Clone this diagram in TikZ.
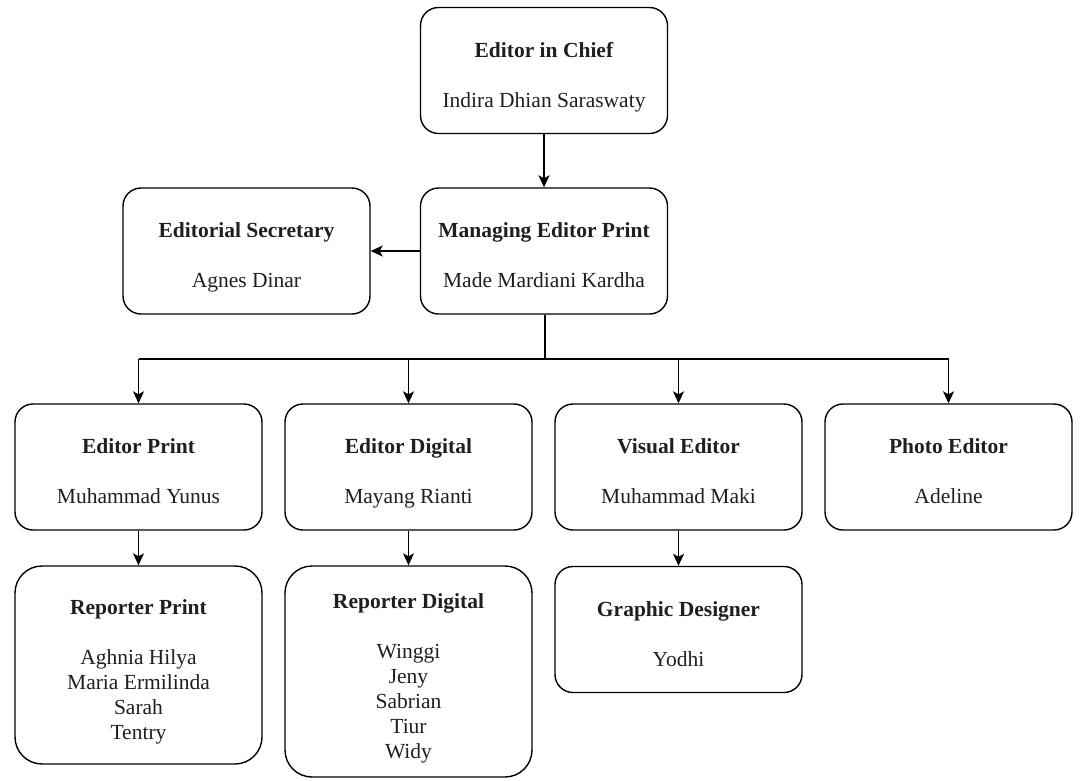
\documentclass[tikz,border=0pt]{standalone}
\usepackage{fontspec}
\setmainfont{Liberation Serif}
\usetikzlibrary{arrows.meta}
\newcommand{\ttl}[1]{\rule{0pt}{29.5pt}\textbf{#1}}
\newcommand{\lst}{\rule[-6pt]{0pt}{6pt}}
\begin{document}
\begin{tikzpicture}[x=1pt,y=-1pt,
  box/.style={draw, line width=1.4pt, rounded corners=18pt, minimum width=247pt,
    minimum height=126pt, inner sep=0pt, align=center,
    font=\fontsize{21.5}{25}\selectfont, text=black!88},
  tallbox/.style={box, rounded corners=27pt},
  conn/.style={line width=1.4pt},
  trunk/.style={line width=2.6pt},
  arr/.style={line width=1.4pt, -{Stealth[length=12pt,width=11pt,inset=3pt]}}]
\useasboundingbox (0,0) rectangle (1080,780);

\node[box] (chief) at (544,70.5) {\ttl{Editor in Chief}\\[25pt]Indira Dhian Saraswaty\lst};
\node[box] (managing) at (544,251) {\ttl{Managing Editor Print}\\[25pt]Made Mardiani Kardha\lst};
\node[box] (secretary) at (246.5,251) {\ttl{Editorial Secretary}\\[25pt]Agnes Dinar\lst};

\node[box] (ep) at (138.5,467) {\ttl{Editor Print}\\[25pt]Muhammad Yunus\lst};
\node[box] (dg) at (408.5,467) {\ttl{Editor Digital}\\[25pt]Mayang Rianti\lst};
\node[box] (ve) at (678.5,467) {\ttl{Visual Editor}\\[25pt]Muhammad Maki\lst};
\node[box] (pe) at (948.5,467) {\ttl{Photo Editor}\\[25pt]Adeline\lst};

\node[tallbox, minimum height=198pt] (rp) at (138.5,665)
  {\ttl{Reporter Print}\\[25pt]Aghnia Hilya\\Maria Ermilinda\\Sarah\\Tentry\lst};
\node[tallbox, minimum height=211pt] (rd) at (408.5,671.5)
  {\ttl{Reporter Digital}\\[25pt]Winggi\\Jeny\\Sabrian\\Tiur\\Widy\lst};
\node[box] (gd) at (678.5,629.5) {\ttl{Graphic Designer}\\[25pt]Yodhi\lst};

\draw[arr] (chief) -- (managing);
\draw[arr] (managing.west) -- (secretary.east);

\coordinate (bus) at (545,359);
\draw[trunk] (managing.south -| bus) -- (bus);
\draw[conn] (ep.north |- bus) -- (pe.north |- bus);
\foreach \n in {ep,dg,ve,pe}
  \draw[arr] (\n.north |- bus) -- (\n.north);

\draw[arr] (ep) -- (rp);
\draw[arr] (dg) -- (rd);
\draw[arr] (ve) -- (gd);
\end{tikzpicture}
\end{document}
